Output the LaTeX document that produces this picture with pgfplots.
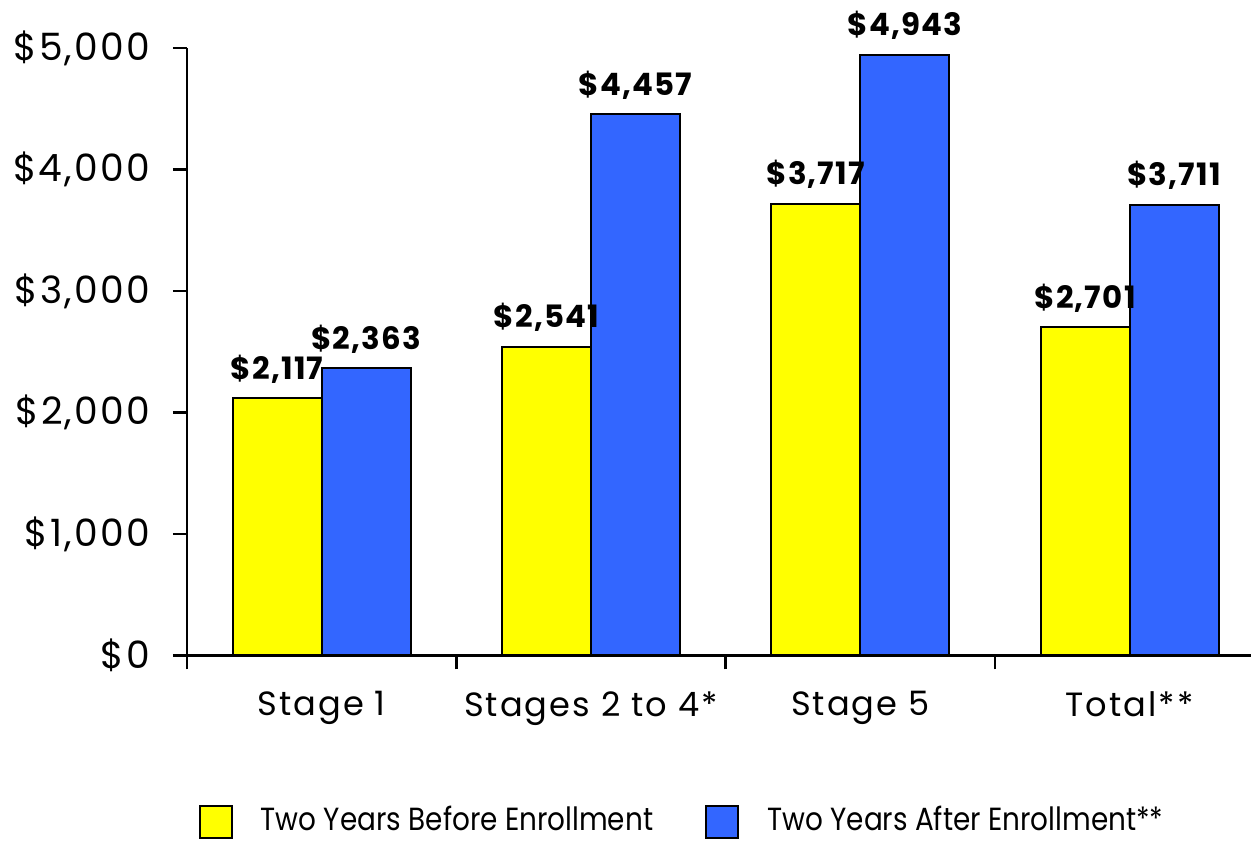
\documentclass[border=0pt]{standalone}
\usepackage{fontspec}
\setmainfont{Poppins}
\newfontfamily\tickfont[LetterSpace=6]{Poppins}
\newfontfamily\valfont[LetterSpace=4]{Poppins}
\newfontfamily\legfont[FakeStretch=0.87]{Poppins}
\usepackage{pgfplots}
\usepackage{pgfplotstable}
\pgfplotsset{compat=1.18}

\definecolor{ybar}{HTML}{FFFF00}
\definecolor{bbar}{HTML}{3366FF}

% earnings by stage, before / after enrollment
\pgfplotstableread{
x before after
0 2117 2363
1 2541 4457
2 3717 4943
3 2701 3711
}\earnings

\begin{document}
\begin{tikzpicture}
\begin{axis}[
    scale only axis,
    width=265.75pt, height=151.75pt,
    xmin=-0.5, xmax=3.45,
    ymin=0, ymax=5000,
    axis lines*=left,
    axis line style={line width=0.6pt},
    ybar=0pt, bar width=22.25pt,
    xtick={0,1,2,3},
    xticklabels={Stage 1, Stages 2 to 4*, Stage 5, Total**},
    major x tick style={draw=none},
    minor xtick={-0.5,0.5,1.5,2.5},
    ytick={0,1000,2000,3000,4000,5000},
    tick align=outside,
    tick style={black, line width=0.6pt},
    major tick length=3.5pt, minor tick length=3.5pt,
    /pgf/number format/.cd, 1000 sep={,}, fixed, precision=0, assume math mode=true,
    /pgfplots/.cd,
    yticklabel={\$\pgfmathprintnumber{\tick}},
    y tick label style={font=\tickfont\fontsize{9.4}{12}\selectfont, xshift=-2.2pt},
    x tick label style={font=\tickfont\fontsize{8.4}{10}\selectfont, yshift=-2pt},
    nodes near coords={\$\pgfmathprintnumber{\pgfplotspointmeta}},
    every node near coord/.append style={font=\valfont\bfseries\fontsize{7.7}{10}\selectfont,
        anchor=south, inner sep=0pt, yshift=3.5pt, black},
    legend style={draw=none, fill=none, inner sep=0pt,
        at={(axis description cs:0.0103,-0.234)}, anchor=north west,
        font=\legfont\fontsize{8}{10}\selectfont,
        /tikz/every odd column/.append style={column sep=5pt},
        /tikz/every even column/.append style={column sep=11pt}},
    legend columns=2,
    legend image code/.code={\draw[#1, line width=0.5pt] (0pt,-4pt) rectangle (8pt,4pt);},
]
\addplot[fill=ybar, draw=black, line width=0.5pt] table[x=x, y=before] {\earnings};
\addplot[fill=bbar, draw=black, line width=0.5pt] table[x=x, y=after] {\earnings};
\legend{Two Years Before Enrollment, Two Years After Enrollment**}
\end{axis}
% white space above the axis, as in the original
\path (current axis.north west) ++(0,12pt);
\end{tikzpicture}
\end{document}
